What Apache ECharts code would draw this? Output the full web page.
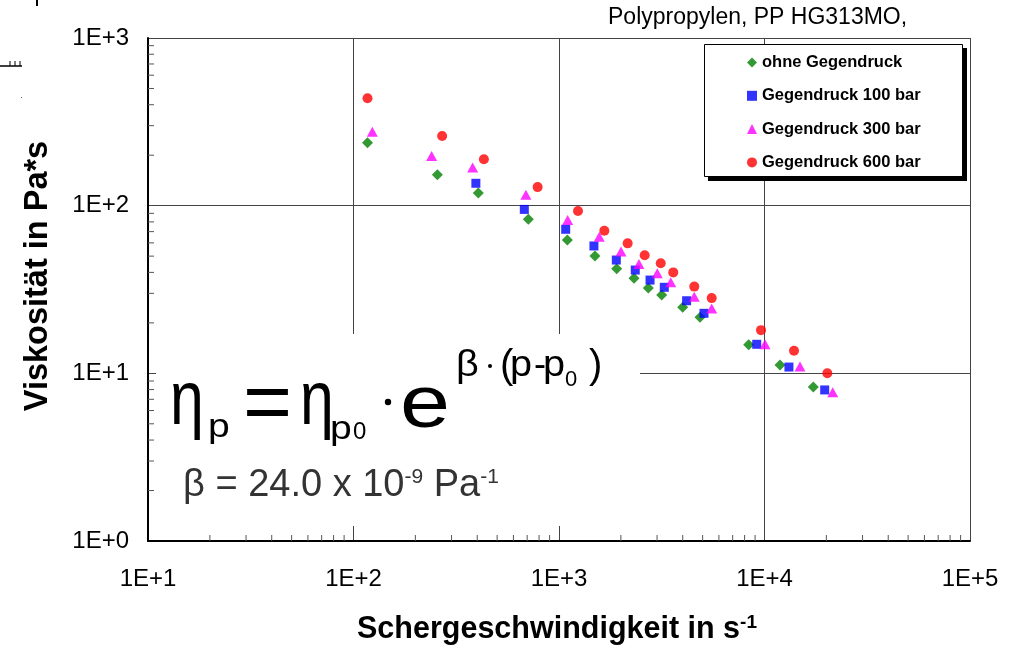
<!DOCTYPE html>
<html>
<head>
<meta charset="utf-8">
<script src="https://cdn.jsdelivr.net/npm/echarts@6/dist/echarts.min.js"></script>
<style>
  html, body { margin: 0; padding: 0; background: #fff; }
  #chart { width: 1022px; height: 648px; }
</style>
</head>
<body>
<div id="chart"></div>
<script>
const FONT = '"Liberation Sans", Arial, Helvetica, sans-serif';

// Shear rate (1/s) and viscosity (Pa*s) for each back-pressure level
const rateOhne = [117, 256, 405, 709, 1098, 1496, 1909, 2318, 2720, 3161, 3998, 4853, 8376, 11898, 17284];
const viscOhne = [237, 153, 119, 83, 62.4, 50.1, 42.1, 36.9, 32.3, 29.3, 24.8, 21.6, 14.8, 11.2, 8.3];

const rate100 = [394, 678, 1078, 1479, 1901, 2350, 2773, 3254, 4178, 5076, 9164, 13150, 19630];
const visc100 = [136, 95, 72.3, 57.5, 47.4, 41.3, 36.0, 32.6, 27.1, 22.8, 14.9, 10.9, 7.96];

const rate300 = [123.5, 240, 380, 690, 1102, 1570, 2003, 2449, 3007, 3497, 4553, 5534, 10056, 14882, 21478];
const visc300 = [276, 198, 169, 116, 82, 65.3, 53.2, 44.9, 39.5, 34.9, 28.6, 24.4, 14.9, 11.0, 7.7];

const rate600 = [117, 270, 431, 787, 1237, 1662, 2158, 2612, 3126, 3597, 4553, 5534, 9616, 13920, 20216];
const visc600 = [437, 260, 189, 129, 93, 70.9, 59.6, 50.6, 45.3, 40.0, 32.9, 28.1, 18.1, 13.65, 10.0];

const seriesNames = ['ohne Gegendruck', 'Gegendruck 100 bar', 'Gegendruck 300 bar', 'Gegendruck 600 bar'];

// Axis ranges and tick labels (decades)
const X_MIN = 10, X_MAX = 100000;
const Y_MIN = 1, Y_MAX = 1000;
const xTickLabels = ['1E+1', '1E+2', '1E+3', '1E+4', '1E+5'];
const yTickLabels = ['1E+0', '1E+1', '1E+2', '1E+3'];

// Logarithmic minor tick values
const xMinorTicks = [20, 30, 40, 50, 60, 70, 80, 90,
  200, 300, 400, 500, 600, 700, 800, 900,
  2000, 3000, 4000, 5000, 6000, 7000, 8000, 9000,
  20000, 30000, 40000, 50000, 60000, 70000, 80000, 90000];
const yMinorTicks = [2, 3, 4, 5, 6, 7, 8, 9,
  20, 30, 40, 50, 60, 70, 80, 90,
  200, 300, 400, 500, 600, 700, 800, 900];

const pairs = (xs, ys) => xs.map((x, i) => [x, ys[i]]);

function decadeLabel(labels, min) {
  return v => labels[Math.round(Math.log10(v / min))] || '';
}

// text piece anchored at its left edge and vertical middle, optionally stretched horizontally
function txt(text, x, y, size, sx) {
  return {
    type: 'text', x: x, y: y, z: 6, silent: true, scaleX: sx || 1,
    style: {
      text: text, fill: '#000', fontFamily: FONT, fontSize: size,
      textAlign: 'left', align: 'left', textVerticalAlign: 'middle', verticalAlign: 'middle'
    }
  };
}

function dot(cx, cy, r) {
  return { type: 'circle', z: 6, silent: true, shape: { cx: cx, cy: cy, r: r }, style: { fill: '#000' } };
}

const chart = echarts.init(document.getElementById('chart'), null, { renderer: 'canvas' });

const gridLine = { show: true, lineStyle: { color: '#444', width: 1 } };

const option = {
  animation: false,
  backgroundColor: '#fff',
  grid: { left: 148, right: 52, top: 38, bottom: 107 },
  xAxis: {
    type: 'log', logBase: 10, min: X_MIN, max: X_MAX,
    axisLine: { show: true, lineStyle: { color: '#000', width: 2 } },
    axisTick: { show: false },
    splitLine: gridLine,
    axisLabel: {
      formatter: decadeLabel(xTickLabels, X_MIN),
      fontFamily: FONT, fontSize: 24, color: '#000', margin: 26
    }
  },
  yAxis: {
    type: 'log', logBase: 10, min: Y_MIN, max: Y_MAX,
    axisLine: { show: true, lineStyle: { color: '#000', width: 2 } },
    axisTick: { show: false },
    splitLine: gridLine,
    axisLabel: {
      formatter: decadeLabel(yTickLabels, Y_MIN),
      fontFamily: FONT, fontSize: 24, color: '#000', margin: 19
    }
  },
  legend: {
    orient: 'vertical', left: 704, top: 44,
    data: seriesNames,
    itemWidth: 10, itemHeight: 10, itemGap: 16.3,
    padding: [10, 45, 9, 43],
    backgroundColor: 'transparent', borderWidth: 0,
    z: 8,
    textStyle: { fontFamily: FONT, fontWeight: 'bold', fontSize: 16.5, color: '#000' }
  },
  series: [
    {
      name: seriesNames[0], type: 'scatter', symbol: 'diamond', symbolSize: 11,
      itemStyle: { color: '#008000' }, data: pairs(rateOhne, viscOhne), z: 3
    },
    {
      name: seriesNames[1], type: 'scatter', symbol: 'rect', symbolSize: 9,
      itemStyle: { color: '#0000ff' }, data: pairs(rate100, visc100), z: 3
    },
    {
      name: seriesNames[2], type: 'scatter', symbol: 'triangle', symbolSize: [11, 10],
      itemStyle: { color: '#ff00ff' }, data: pairs(rate300, visc300), z: 3
    },
    {
      name: seriesNames[3], type: 'scatter', symbol: 'circle', symbolSize: 10,
      itemStyle: { color: '#ff0000' }, data: pairs(rate600, visc600), z: 3
    },
    // inside minor ticks along the bottom axis
    {
      type: 'custom', silent: true, z: 2,
      data: xMinorTicks.map(v => [v, Y_MIN]),
      renderItem: (params, api) => {
        const p = api.coord([api.value(0), Y_MIN]);
        return { type: 'line', shape: { x1: p[0], y1: p[1], x2: p[0], y2: p[1] - 6 },
                 style: { stroke: '#555', lineWidth: 1 } };
      }
    },
    // inside minor ticks along the left axis
    {
      type: 'custom', silent: true, z: 2,
      data: yMinorTicks.map(v => [X_MIN, v]),
      renderItem: (params, api) => {
        const p = api.coord([X_MIN, api.value(1)]);
        return { type: 'line', shape: { x1: p[0], y1: p[1], x2: p[0] + 6, y2: p[1] },
                 style: { stroke: '#555', lineWidth: 1 } };
      }
    }
  ],
  graphic: [
    // stray marks at the upper left corner
    { type: 'line', z: 5, silent: true, shape: { x1: 37, y1: 0, x2: 37, y2: 6 }, style: { stroke: '#000', lineWidth: 2 } },
    { type: 'line', z: 5, silent: true, shape: { x1: 0, y1: 66, x2: 22, y2: 66 }, style: { stroke: '#000', lineWidth: 1.5 } },
    { type: 'line', z: 5, silent: true, shape: { x1: 10, y1: 61, x2: 10, y2: 66 }, style: { stroke: '#000', lineWidth: 1 } },
    { type: 'line', z: 5, silent: true, shape: { x1: 15, y1: 61, x2: 15, y2: 66 }, style: { stroke: '#000', lineWidth: 1 } },
    { type: 'line', z: 5, silent: true, shape: { x1: 20, y1: 61, x2: 20, y2: 66 }, style: { stroke: '#000', lineWidth: 1 } },
    { type: 'rect', z: 5, silent: true, shape: { x: 21, y: 97, width: 1, height: 1 }, style: { fill: '#666' } },

    // header
    txt('Polypropylen, PP HG313MO,', 608, 18, 23),

    // legend frame with drop shadow
    { type: 'rect', z: 5, silent: true, shape: { x: 708, y: 48, width: 259, height: 133 }, style: { fill: '#000' } },
    { type: 'rect', z: 5, silent: true, shape: { x: 704.5, y: 44.5, width: 258, height: 132 }, style: { fill: '#fff', stroke: '#000', lineWidth: 1 } },

    // white panel behind the formula
    { type: 'rect', z: 5, silent: true, shape: { x: 156, y: 334, width: 484, height: 192 }, style: { fill: '#fff' } },

    // eta_p = eta_p0 * e^(beta*(p - p0))
    txt('η', 170, 403, 76, 0.8),
    txt('p', 208, 428, 34, 1.15),
    txt('=', 243, 407, 84),
    txt('η', 300, 403, 76, 0.8),
    txt('p', 330, 430, 34, 1.15),
    txt('0', 353, 432, 24),
    dot(388, 402, 3.2),
    txt('e', 400, 406, 75, 1.2),
    txt('β', 456, 366, 36, 1.1),
    dot(490, 366, 2),
    txt('(', 500, 367, 40),
    txt('p', 510, 366, 36, 1.1),
    txt('-', 534, 366, 36),
    txt('p', 543, 366, 36, 1.1),
    txt('0', 565, 380, 22),
    txt(')', 589, 367, 40),

    // pressure coefficient
    {
      type: 'text', x: 183, y: 486, z: 6, silent: true,
      style: {
        text: 'β = 24.0 x 10{s|-9} Pa{s|-1}',
        fill: '#333', fontFamily: FONT, fontSize: 38,
        textVerticalAlign: 'middle', verticalAlign: 'middle',
        rich: {
          s: { fontSize: 21, fill: '#333', fontFamily: FONT, verticalAlign: 'top', padding: [0, 0, 15, 0] }
        }
      }
    },

    // axis titles
    {
      type: 'text', x: 557, y: 630, z: 6, silent: true,
      style: {
        text: 'Schergeschwindigkeit in s{sup|-1}',
        fill: '#000', fontFamily: FONT, fontSize: 30.5, fontWeight: 'bold',
        textAlign: 'center', align: 'center', textVerticalAlign: 'middle', verticalAlign: 'middle',
        rich: {
          sup: { fontSize: 19, fontWeight: 'bold', fontFamily: FONT, fill: '#000', verticalAlign: 'top', padding: [0, 0, 14, 0] }
        }
      }
    },
    {
      type: 'text', x: 38, y: 276, z: 6, silent: true, rotation: Math.PI / 2,
      style: {
        text: 'Viskosität in Pa*s',
        fill: '#000', fontFamily: FONT, fontSize: 32.5, fontWeight: 'bold',
        textAlign: 'center', align: 'center', textVerticalAlign: 'middle', verticalAlign: 'middle'
      }
    }
  ]
};

chart.setOption(option);
</script>
</body>
</html>
